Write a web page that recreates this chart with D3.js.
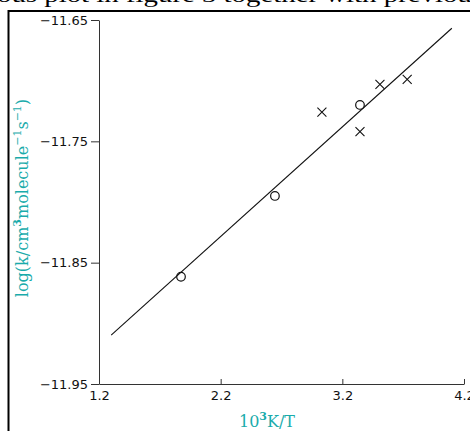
<!DOCTYPE html>
<html><head><meta charset="utf-8">
<script src="https://cdn.jsdelivr.net/npm/d3@7"></script>
<style>body{margin:0;background:#fff}svg{display:block}</style>
</head><body>
<svg id="c" width="470" height="431"></svg>
<script>
const circleX = [1.874, 2.646, 3.345];
const circleY = [-11.8616, -11.795, -11.720];
const crossX = [3.032, 3.345, 3.509, 3.733];
const crossY = [-11.726, -11.742, -11.703, -11.699];
const fitX = [1.3, 4.1];
const fitY = [-11.9097, -11.6568];
const xTicks = [1.2, 2.2, 3.2, 4.2];
const yTicks = [-11.95, -11.85, -11.75, -11.65];

const svg = d3.select("#c");
const teal = "#1aabab";
const x = d3.scaleLinear().domain([1.2, 4.2]).range([99, 464]);
const y = d3.scaleLinear().domain([-11.95, -11.65]).range([384, 20]);

// scanned page fragment
svg.append("text").attr("x", -3).attr("y", 1.5)
  .attr("font-family", "Liberation Serif").attr("font-size", 20)
  .attr("textLength", 486).attr("lengthAdjust", "spacingAndGlyphs")
  .text("ous plot in figure 3 together with previous");
svg.append("line").attr("x1", 8).attr("x2", 470).attr("y1", 11).attr("y2", 11)
  .attr("stroke", "#000").attr("stroke-width", 2);
svg.append("line").attr("x1", 8.5).attr("x2", 8.5).attr("y1", 10).attr("y2", 431)
  .attr("stroke", "#000").attr("stroke-width", 2);

const fontTick = "DejaVu Sans";
const yAxis = svg.append("g").attr("transform", "translate(99,0)")
  .call(d3.axisLeft(y).tickValues(yTicks).tickFormat(d3.format(".2f"))
    .tickSize(8).tickSizeOuter(0).tickPadding(3));
const xAxis = svg.append("g").attr("transform", "translate(0,384)")
  .call(d3.axisBottom(x).tickValues(xTicks).tickFormat(d3.format(".1f"))
    .tickSize(-5).tickSizeOuter(0).tickPadding(7));
[xAxis, yAxis].forEach(a => {
  a.selectAll("text").attr("font-family", fontTick).attr("font-size", 13).attr("fill", "#111");
  a.selectAll("line,path").attr("stroke", "#333");
});

// fit line
svg.append("line")
  .attr("x1", x(fitX[0])).attr("y1", y(fitY[0]))
  .attr("x2", x(fitX[1])).attr("y2", y(fitY[1]))
  .attr("stroke", "#111").attr("stroke-width", 1.1);

// circles
svg.selectAll("circle.pt").data(circleX.map((d, i) => [d, circleY[i]])).join("circle")
  .attr("class", "pt").attr("cx", d => x(d[0])).attr("cy", d => y(d[1])).attr("r", 4.3)
  .attr("fill", "none").attr("stroke", "#111").attr("stroke-width", 1.2);
// crosses
const s = 4.5;
svg.selectAll("path.cx").data(crossX.map((d, i) => [d, crossY[i]])).join("path")
  .attr("class", "cx")
  .attr("d", d => {
    const px = x(d[0]), py = y(d[1]);
    return `M${px - s},${py - s}L${px + s},${py + s}M${px - s},${py + s}L${px + s},${py - s}`;
  })
  .attr("stroke", "#111").attr("stroke-width", 1.1).attr("fill", "none");

// axis labels
const xl = svg.append("text").attr("x", 267).attr("y", 427).attr("text-anchor", "middle")
  .attr("font-family", "DejaVu Serif").attr("font-size", 16).attr("fill", teal);
xl.append("tspan").text("10");
xl.append("tspan").attr("font-size", 11).attr("dy", -7).attr("font-weight", "bold").text("3");
xl.append("tspan").attr("dy", 7).text("K/T");

const yl = svg.append("text").attr("transform", "translate(28,198) rotate(-90)")
  .attr("text-anchor", "middle")
  .attr("font-family", "DejaVu Serif").attr("font-size", 16).attr("fill", teal);
yl.append("tspan").text("log(k/cm");
yl.append("tspan").attr("font-size", 11).attr("dy", -7).attr("font-weight", "bold").text("3");
yl.append("tspan").attr("dy", 7).text("molecule");
yl.append("tspan").attr("font-size", 11).attr("dy", -7).text("−1");
yl.append("tspan").attr("dy", 7).text("s");
yl.append("tspan").attr("font-size", 11).attr("dy", -7).text("−1");
yl.append("tspan").attr("dy", 7).text(")");
</script>
</body></html>
